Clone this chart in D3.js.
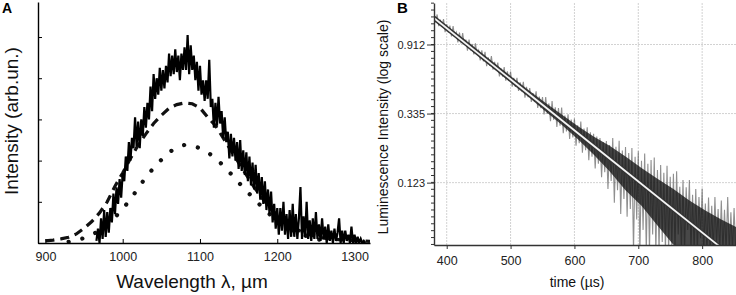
<!DOCTYPE html>
<html>
<head>
<meta charset="utf-8">
<script src="https://cdn.jsdelivr.net/npm/d3@7"></script>
<style>
body { margin: 0; background: #fff; }
text { font-family: "Liberation Sans", Arial, sans-serif; }
</style>
</head>
<body>
<script>
// ---------- Panel A: emission spectrum ----------
const specStart = 966, specStep = 2;   // nm
const specValues = [
  0.05,0.35,0.0,0.6,0.1,0.8,0.15,0.75,0.25,0.85,0.5,1.2,0.7,1.35,0.95,1.55,1.1,1.7,
  1.5,2.1,1.75,2.45,2.0,2.55,2.3,3.05,2.35,2.95,2.3,3.0,2.6,3.3,2.8,3.4,3.0,3.8,3.2,4.1,
  3.5,4.0,3.6,4.25,3.7,4.2,3.75,4.3,3.9,4.6,4.05,4.55,4.1,4.7,4.15,4.55,3.95,4.6,4.2,4.75,
  4.2,5.05,4.1,4.8,4.2,4.55,3.95,4.4,3.7,4.3,3.6,3.95,3.45,3.95,3.5,4.45,3.3,3.5,2.8,3.4,
  2.85,3.55,2.9,3.2,2.55,3.05,2.45,2.7,2.05,2.65,2.1,2.55,2.0,2.45,1.8,2.5,1.75,2.25,1.65,
  2.2,1.5,2.1,1.4,1.95,1.3,1.9,1.2,1.7,1.05,1.6,0.95,1.5,0.8,1.3,0.7,1.25,0.5,0.95,0.35,
  0.85,0.2,0.85,0.3,1.0,0.2,0.7,0.1,0.8,0.15,0.95,0.15,0.7,0.1,0.6,1.36,0.1,0.65,0.15,1.0,
  0.1,0.55,0.05,0.6,0.1,0.75,0.1,0.45,0.05,0.6,0.1,0.4,0.0,0.45,0.05,0.3,0.0,0.35,0.05,0.25,
  0.6,0.0,0.3,0.0,0.3,0.05,0.2,0.0,0.4,0.0,0.2,0.0,0.15,0.0,0.1,0.0,0.05,0.0
];
const dashWl = [900,910,920,930,940,950,960,970,980,990,1000,1010,1020,1030,1040,1050,1060,1070,
  1080,1090,1100,1110,1120,1130,1140,1150,1160,1170,1180,1190,1200,1210,1220,1230,1240,1250,1260,
  1270,1280,1290,1300,1310,1320];
const dashValues = [0.05,0.07,0.1,0.14,0.22,0.36,0.52,0.73,1.0,1.38,1.7,2.05,2.38,2.65,2.9,3.1,3.27,
  3.36,3.4,3.38,3.28,3.05,2.85,2.55,2.25,1.95,1.65,1.36,1.1,0.87,0.67,0.51,0.39,0.29,0.21,0.16,0.12,
  0.1,0.08,0.07,0.06,0.05,0.04];
const dotWl = [930,940,950,960,970,980,990,1000,1010,1020,1030,1040,1050,1060,1070,1080,1090,1100,
  1110,1120,1130,1140,1150,1160,1170,1180,1190,1200,1210,1220,1230,1240,1250,1260,1270];
const dotValues = [0.03,0.06,0.12,0.2,0.3,0.45,0.62,0.83,1.06,1.33,1.6,1.82,2.02,2.2,2.32,2.38,2.37,
  2.3,2.2,2.06,1.88,1.68,1.47,1.27,1.07,0.88,0.7,0.55,0.42,0.31,0.22,0.15,0.1,0.06,0.04];
const wlTicks = [900, 1000, 1100, 1200, 1300];
const intensityTicks = [0, 1, 2, 3, 4, 5];

// ---------- Panel B: luminescence decay ----------
const decayStart = 380, decayStep = 5;   // microseconds
const decayHi = [1.42,1.41,1.31,1.32,1.22,1.20,1.19,1.086,1.086,1.075,0.98,0.98,0.919,0.927,0.837,
  0.837,0.821,0.756,0.771,0.709,0.702,0.646,0.658,0.617,0.616,0.562,0.562,0.526,0.531,0.494,0.485,
  0.451,0.462,0.429,
  0.426,0.425,0.388,0.401,0.367,0.363,0.365,0.325,0.331,0.307,0.312,0.283,0.298,0.270,
  0.275,0.255,0.25,0.24,0.235,0.222,0.225,0.212,0.235,0.207,0.226,0.196,0.206,0.189,
  0.203,0.179,0.194,0.169,0.188,0.162,0.171,0.177,0.148,0.159,0.142,0.157,0.134,0.140,0.145,0.116,
  0.128,0.115,0.128,0.103,0.112,0.100,0.113,0.091,0.099,0.088,0.10,0.084,0.095,0.083,0.10,0.08,0.085];
const decayLo = [1.26,1.19,1.18,1.09,1.086,1.024,1.019,0.941,0.926,0.912,0.833,0.838,0.790,0.787,
  0.725,0.714,0.666,0.670,0.633,0.630,0.574,0.572,0.540,0.537,0.495,0.493,0.465,0.462,0.422,0.425,
  0.397,0.400,0.364,0.362,
  0.331,0.333,0.300,0.306,0.276,0.281,0.252,0.258,0.232,0.237,0.210,0.218,0.190,0.197,
  0.170,0.179,0.151,0.162,0.133,0.143,0.112,0.126,0.092,0.110,0.078,0.097,0.075,0.084,
  0.045,0.072,0.045,0.062,0.045,0.045,0.058,0.045,0.045,0.052,0.045,0.045,0.048,
  0.045,0.058,0.045,0.045,0.062,0.045,0.045,0.045,0.055,0.045,0.045,0.045,0.045,0.05,0.045,0.045,
  0.045,0.045,0.045,0.045];
const coreTime = [380,405,430,455,480,505,530,555,580,605,630,655,680,705,730,755,780,805,830,855];
const coreHi = [1.40,1.165,0.97,0.805,0.67,0.557,0.465,0.39,0.33,0.28,0.24,0.21,0.18,0.152,0.13,
  0.112,0.095,0.082,0.072,0.064];
const coreLo = [1.28,1.065,0.885,0.735,0.61,0.505,0.42,0.345,0.285,0.232,0.185,0.145,0.11,0.088,0.066,
  0.05,0.044,0.04,0.035,0.03];
const fitTime = [380, 850];
const fitValue = [1.34, 0.0412];
const timeTicks = [400, 500, 600, 700, 800];
const logTicks = [0.912, 0.335, 0.123];

const W = 736, H = 295;
const svg = d3.select("body").append("svg").attr("width", W).attr("height", H);

// ================= Panel A =================
const xA = d3.scaleLinear().domain([890.4, 1320]).range([38, 370]);
const yA = d3.scaleLinear().domain([0, 5.85]).range([243, 2]);

const gA = svg.append("g").attr("id", "panelA");
gA.append("clipPath").attr("id", "clipA")
  .append("rect").attr("x", 38).attr("y", 0).attr("width", 332).attr("height", 244);

const lineA = d3.line().x(d => xA(d[0])).y(d => yA(d[1]));

const plotA = gA.append("g").attr("clip-path", "url(#clipA)");
plotA.append("path")
  .datum(dotWl.map((w, i) => [w, dotValues[i]]))
  .attr("fill", "none").attr("stroke", "#111").attr("stroke-width", 4.2)
  .attr("stroke-linecap", "round").attr("stroke-dasharray", "0.1 14")
  .attr("d", lineA);
plotA.append("path")
  .datum(dashWl.map((w, i) => [w, dashValues[i]]))
  .attr("fill", "none").attr("stroke", "#111").attr("stroke-width", 3.2)
  .attr("stroke-dasharray", "9 6")
  .attr("d", lineA);
plotA.append("path")
  .datum(specValues.map((v, i) => [specStart + i * specStep, v]))
  .attr("fill", "none").attr("stroke", "#000").attr("stroke-width", 2.2)
  .attr("stroke-linejoin", "miter")
  .attr("d", lineA);

// axes A (ticks pointing inward)
gA.append("g")
  .attr("transform", "translate(38,0)")
  .call(d3.axisRight(yA).tickValues(intensityTicks).tickSize(4).tickSizeOuter(0).tickFormat(""))
  .call(g => g.select(".domain").attr("stroke", "#000").attr("stroke-width", 1.4));

gA.append("g")
  .attr("transform", "translate(0,243)")
  .call(d3.axisBottom(xA).tickValues(wlTicks).tickSizeInner(-4).tickSizeOuter(0)
    .tickPadding(9).tickFormat(d3.format("d")))
  .call(g => g.select(".domain").attr("stroke", "#000").attr("stroke-width", 1.4))
  .call(g => g.selectAll("text").attr("font-size", 12.5).attr("fill", "#222")
    .attr("font-family", "Liberation Sans, Arial, sans-serif"));

gA.append("text")
  .attr("transform", "translate(18,121) rotate(-90)")
  .attr("text-anchor", "middle").attr("font-size", 19).attr("fill", "#111")
  .text("Intensity (arb.un.)");
gA.append("text")
  .attr("x", 192).attr("y", 288)
  .attr("text-anchor", "middle").attr("font-size", 19).attr("fill", "#111")
  .text("Wavelength \u03bb, \u00b5m");
gA.append("text")
  .attr("x", 2).attr("y", 13).attr("font-size", 14).attr("font-weight", "bold")
  .text("A");

// ================= Panel B =================
const xB = d3.scaleLinear().domain([380.1, 853]).range([434, 736]);
const yB = d3.scaleLog().domain([Math.exp(-3.0), Math.exp(0.51)]).range([245, 3]);

const gB = svg.append("g").attr("id", "panelB");
gB.append("clipPath").attr("id", "clipB")
  .append("rect").attr("x", 434).attr("y", 3).attr("width", 302).attr("height", 242);

// grid
gB.append("g").selectAll("line").data(timeTicks).join("line")
  .attr("x1", d => xB(d)).attr("x2", d => xB(d)).attr("y1", 3).attr("y2", 245)
  .attr("stroke", "#d2d2d2").attr("stroke-width", 1).attr("stroke-dasharray", "2 1");
gB.append("g").selectAll("line").data(logTicks).join("line")
  .attr("x1", 434).attr("x2", 736).attr("y1", d => yB(d)).attr("y2", d => yB(d))
  .attr("stroke", "#d2d2d2").attr("stroke-width", 1).attr("stroke-dasharray", "2 1");

const plotB = gB.append("g").attr("clip-path", "url(#clipB)");

// noisy trace: zigzag between the upper and lower spike of each sample
const zig = [];
decayHi.forEach((hi, i) => {
  const t = decayStart + i * decayStep;
  zig.push([t, hi]);
  zig.push([t + decayStep / 2, decayLo[i]]);
});
const traceLine = d3.line().x(d => xB(d[0])).y(d => yB(d[1]));
plotB.append("path").datum(zig)
  .attr("fill", "none").attr("stroke", "#444").attr("stroke-opacity", 0.6)
  .attr("stroke-width", 1.1).attr("d", traceLine);

// dense core
const coreArea = d3.area()
  .x(d => xB(d.t)).y0(d => yB(d.lo)).y1(d => yB(d.hi));
plotB.append("path")
  .datum(coreTime.map((t, i) => ({ t: t, hi: coreHi[i], lo: coreLo[i] })))
  .attr("fill", "#151515").attr("fill-opacity", 0.78)
  .attr("d", coreArea);

// exponential fit
const fitLine = d3.line().x(d => xB(d[0])).y(d => yB(d[1]));
const fitData = fitTime.map((t, i) => [t, fitValue[i]]);
plotB.append("path").datum(fitData)
  .attr("fill", "none").attr("stroke", "#333").attr("stroke-width", 4)
  .attr("d", fitLine);
plotB.append("path").datum(fitData)
  .attr("fill", "none").attr("stroke", "#f4f4f4").attr("stroke-width", 1.8)
  .attr("d", fitLine);

// y axis with minor ticks every 0.1 in ln
const minorTicks = d3.range(-29, 7).map(j => Math.exp(Math.log(0.912) + 0.1 * j))
  .filter(v => v >= Math.exp(-3.0) && v <= Math.exp(0.51));
gB.append("g").selectAll("line").data(minorTicks).join("line")
  .attr("x1", 431).attr("x2", 434).attr("y1", d => yB(d)).attr("y2", d => yB(d))
  .attr("stroke", "#333").attr("stroke-width", 1);

gB.append("g")
  .attr("transform", "translate(434,0)")
  .call(d3.axisLeft(yB).tickValues(logTicks).tickSize(7).tickSizeOuter(0)
    .tickPadding(2).tickFormat(d3.format(".3f")))
  .call(g => g.select(".domain").attr("stroke", "#333").attr("stroke-width", 1.4))
  .call(g => g.selectAll(".tick line").attr("stroke", "#333"))
  .call(g => g.selectAll("text").attr("font-size", 11).attr("fill", "#222")
    .attr("font-family", "Liberation Sans, Arial, sans-serif"));

gB.append("g")
  .attr("transform", "translate(0,245)")
  .call(d3.axisBottom(xB).tickValues(timeTicks).tickSize(4).tickSizeOuter(0).tickPadding(7))
  .call(g => g.select(".domain").attr("stroke", "#333").attr("stroke-width", 1.6))
  .call(g => g.selectAll(".tick line").attr("stroke", "#333"))
  .call(g => g.selectAll("text").attr("font-size", 12.5).attr("fill", "#222")
    .attr("font-family", "Liberation Sans, Arial, sans-serif"));

gB.append("text")
  .attr("transform", "translate(388,127) rotate(-90)")
  .attr("text-anchor", "middle").attr("font-size", 14).attr("fill", "#111")
  .text("Luminescence Intensity (log scale)");
gB.append("text")
  .attr("x", 577).attr("y", 287)
  .attr("text-anchor", "middle").attr("font-size", 14).attr("fill", "#111")
  .text("time (\u00b5s)");
gB.append("text")
  .attr("x", 397).attr("y", 13).attr("font-size", 15).attr("font-weight", "bold")
  .text("B");
</script>
</body>
</html>
